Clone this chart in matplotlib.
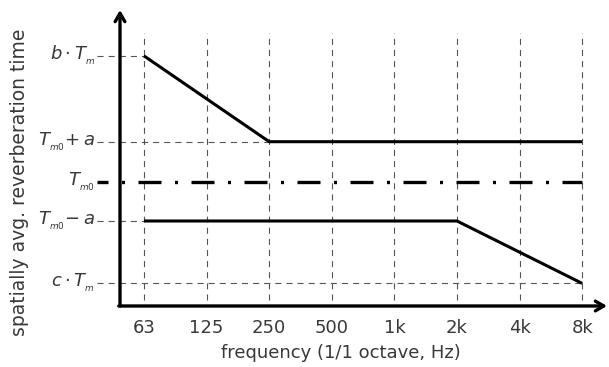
import matplotlib
matplotlib.use("Agg")
import matplotlib.pyplot as plt

# ---- data ----
freq_labels = ["63", "125", "250", "500", "1k", "2k", "4k", "8k"]
level_names = ["b_Tm", "Tm0_plus_a", "Tm0", "Tm0_minus_a", "c_Tm"]
level_values = [1.97, 1.31, 1.0, 0.70, 0.22]
level_labels = [r"$b\cdot T_{_m}$", r"$T_{_{m0}}\!+a$", r"$T_{_{m0}}$", r"$T_{_{m0}}\!-a$", r"$c\cdot T_{_m}$"]
upper_x = [0, 2, 7]          # band indices (63, 250, 8k)
upper_y = [1.97, 1.31, 1.31]
lower_x = [0, 5, 7]          # band indices (63, 2k, 8k)
lower_y = [0.70, 0.70, 0.22]
x_label = "frequency (1/1 octave, Hz)"
y_label = "spatially avg. reverberation time"

W, H = 609, 367
fig = plt.figure(figsize=(W / 100, H / 100), dpi=100)
plt.rcParams["font.family"] = ["DejaVu Sans"]

left_px, right_px, bottom_px, top_px = 120, 607, 306, 10
ax = fig.add_axes([left_px / W, 1 - bottom_px / H, (right_px - left_px) / W, (bottom_px - top_px) / H])
px_per_band = 62.6
ax.set_xlim((left_px - 144) / px_per_band, (right_px - 144) / px_per_band)
ax.set_ylim(1 + (182 - bottom_px) / 130.0, 1 + (182 - top_px) / 130.0)
ax.axis("off")

xs = list(range(len(freq_labels)))
grid_kw = dict(color="#555555", lw=0.8, ls=(0, (5.5, 4.5)), clip_on=False, zorder=1)

# vertical dashed grid
for x in xs:
    ax.plot([x, x], [0.09, 2.15], **grid_kw)

xl = -0.75
vals = dict(zip(level_names, level_values))
ax.plot([xl, 0], [vals["b_Tm"]] * 2, **grid_kw)
ax.plot([xl, 2], [vals["Tm0_plus_a"]] * 2, **grid_kw)
ax.plot([xl, 0], [vals["Tm0_minus_a"]] * 2, **grid_kw)
ax.plot([xl, 7], [vals["c_Tm"]] * 2, **grid_kw)

# dash-dot Tm0
ax.plot([xl, 7], [vals["Tm0"]] * 2, color="black", lw=2.4,
        ls=(3.6, (6.9, 4.05, 0.9, 4.05)), clip_on=False, zorder=3)

# main lines
ax.plot(upper_x, upper_y, color="black", lw=2.2, solid_capstyle="butt", zorder=4)
ax.plot(lower_x, lower_y, color="black", lw=2.2, solid_capstyle="butt", zorder=4)

# axes arrows
x0, y0 = ax.get_xlim()[0], ax.get_ylim()[0]
ax.annotate("", xy=(x0, ax.get_ylim()[1]), xytext=(x0, y0),
            arrowprops=dict(arrowstyle="->,head_length=0.6,head_width=0.35", lw=2.4, color="black",
                            shrinkA=0, shrinkB=0), annotation_clip=False)
ax.annotate("", xy=(ax.get_xlim()[1], y0), xytext=(x0 - 0.02, y0),
            arrowprops=dict(arrowstyle="->,head_length=0.6,head_width=0.35", lw=2.4, color="black",
                            shrinkA=0, shrinkB=0), annotation_clip=False)

fs = 13
tc = "#383838"
# x tick labels
for x, lab in zip(xs, freq_labels):
    ax.text(x, 1 + (182 - 328) / 130.0, lab, ha="center", va="center", fontsize=fs, color=tc)

# y level labels
for v, lab in zip(level_values, level_labels):
    ax.text(-0.78, v, lab, ha="right", va="center", fontsize=fs, color=tc, clip_on=False)

fig.text(341 / W, 1 - 353 / H, x_label, ha="center", va="center", fontsize=fs, color=tc)
fig.text(20 / W, 1 - 182 / H, y_label, ha="center", va="center", rotation=90, fontsize=13.5, color=tc)

fig.savefig("out.png", dpi=100)
